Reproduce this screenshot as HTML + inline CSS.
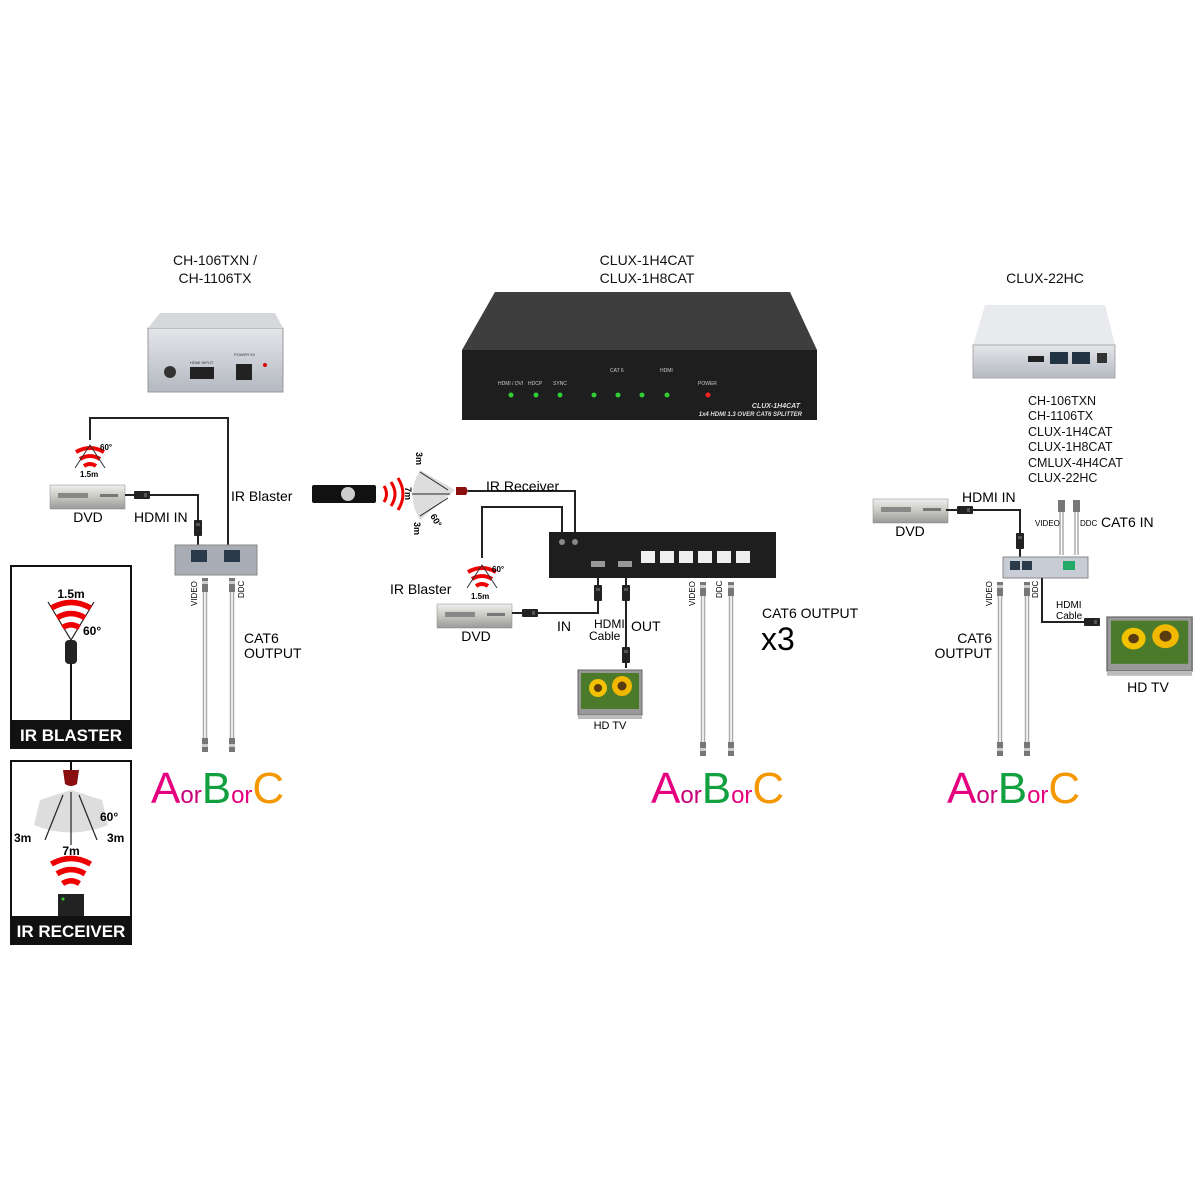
<!DOCTYPE html>
<html><head><meta charset="utf-8"><style>
html,body{margin:0;padding:0;background:#fff;}
svg{display:block;font-family:"Liberation Sans",sans-serif;}
</style></head><body>
<svg width="1200" height="1200" viewBox="0 0 1200 1200" xmlns="http://www.w3.org/2000/svg">
<defs>
<linearGradient id="silver" x1="0" y1="0" x2="0" y2="1"><stop offset="0" stop-color="#e4e6ea"/><stop offset="1" stop-color="#b4b8c0"/></linearGradient>
<linearGradient id="dvd" x1="0" y1="0" x2="0" y2="1"><stop offset="0" stop-color="#eee"/><stop offset="0.5" stop-color="#c8c8c0"/><stop offset="1" stop-color="#999"/></linearGradient>
<linearGradient id="blk" x1="0" y1="0" x2="0" y2="1"><stop offset="0" stop-color="#555"/><stop offset="1" stop-color="#2a2a2a"/></linearGradient>
<g id="dvdg"><rect x="0" y="0" width="75" height="24" fill="url(#dvd)" stroke="#888" stroke-width="0.5"/><rect x="8" y="8" width="30" height="5" fill="#888"/><rect x="50" y="9" width="18" height="3" fill="#777"/></g>
<g id="cable"><rect x="-3" y="0" width="6" height="14" fill="#777"/><rect x="-3" y="3" width="6" height="3" fill="#ccc"/><line x1="-1.5" y1="14" x2="-1.5" y2="160" stroke="#aaa" stroke-width="1.5"/><line x1="1.5" y1="14" x2="1.5" y2="160" stroke="#aaa" stroke-width="1.5"/><rect x="-3" y="160" width="6" height="14" fill="#777"/><rect x="-3" y="166" width="6" height="3" fill="#ccc"/></g>
<g id="plug"><rect x="-4" y="-8" width="8" height="16" rx="1" fill="#222"/><rect x="-2" y="-5" width="4" height="3" fill="#555"/></g>
<g id="waves" fill="none" stroke="#e00" stroke-width="4"><path d="M-14,-10 Q0,-18 14,-10"/><path d="M-10,-3 Q0,-9 10,-3"/><path d="M-6,4 Q0,0 6,4"/></g>
<g id="tv"><rect x="0" y="0" width="64" height="45" fill="#999" stroke="#666"/><rect x="3" y="3" width="58" height="36" fill="#4a7a2a"/><circle cx="20" cy="18" r="9" fill="#f2c200"/><circle cx="20" cy="18" r="4" fill="#5a3a10"/><circle cx="44" cy="16" r="10" fill="#f2b800"/><circle cx="44" cy="16" r="4.5" fill="#5a3a10"/><rect x="0" y="45" width="64" height="4" fill="#bbb"/></g>
</defs>

<!-- titles -->
<g font-size="14" fill="#111" text-anchor="middle">
<text x="215" y="265">CH-106TXN /</text><text x="215" y="283">CH-1106TX</text>
<text x="647" y="265">CLUX-1H4CAT</text><text x="647" y="283">CLUX-1H8CAT</text>
<text x="1045" y="283">CLUX-22HC</text>
</g>

<!-- left device photo -->
<rect x="148" y="328" width="135" height="64" fill="url(#silver)" stroke="#999"/>
<polygon points="160,313 275,313 283,328 148,328" fill="#d6d8dc"/>
<rect x="190" y="367" width="24" height="12" fill="#222"/><circle cx="170" cy="372" r="6" fill="#333"/><rect x="236" y="364" width="16" height="16" fill="#222"/><circle cx="265" cy="365" r="2" fill="#d00"/>
<text x="190" y="364" font-size="4" fill="#333">HDMI INPUT</text><text x="234" y="356" font-size="4" fill="#333">POWER 5V</text>

<!-- center device photo -->
<polygon points="495,292 790,292 817,350 462,350" fill="#3e3e3e"/>
<rect x="462" y="350" width="355" height="70" fill="#1e1e1e"/>
<g fill="#3c3" ><circle cx="511" cy="395" r="2.5"/><circle cx="536" cy="395" r="2.5"/><circle cx="560" cy="395" r="2.5"/><circle cx="594" cy="395" r="2.5"/><circle cx="618" cy="395" r="2.5"/><circle cx="642" cy="395" r="2.5"/><circle cx="667" cy="395" r="2.5"/></g>
<circle cx="708" cy="395" r="2.5" fill="#e22"/>
<g font-size="5" fill="#ccc"><text x="498" y="385">HDMI / DVI</text><text x="528" y="385">HDCP</text><text x="553" y="385">SYNC</text><text x="698" y="385">POWER</text><text x="610" y="372">CAT 6</text><text x="660" y="372">HDMI</text></g>
<text x="800" y="408" font-size="7" fill="#ddd" font-style="italic" font-weight="bold" text-anchor="end">CLUX-1H4CAT</text>
<text x="802" y="416" font-size="6" fill="#ddd" font-style="italic" font-weight="bold" text-anchor="end">1x4 HDMI 1.3 OVER CAT6 SPLITTER</text>

<!-- right device photo -->
<polygon points="985,305 1105,305 1115,345 973,345" fill="#e8eaee"/>
<rect x="973" y="345" width="142" height="33" fill="url(#silver)" stroke="#aaa"/>
<rect x="1050" y="352" width="18" height="12" fill="#234"/><rect x="1072" y="352" width="18" height="12" fill="#234"/><rect x="1028" y="356" width="16" height="6" fill="#222"/><rect x="1097" y="353" width="10" height="10" fill="#333"/>

<text x="1028" y="405" font-size="12.5" fill="#111">CH-106TXN</text>
<text x="1028" y="420" font-size="12.5" fill="#111">CH-1106TX</text>
<text x="1028" y="436" font-size="12.5" fill="#111">CLUX-1H4CAT</text>
<text x="1028" y="451" font-size="12.5" fill="#111">CLUX-1H8CAT</text>
<text x="1028" y="467" font-size="12.5" fill="#111">CMLUX-4H4CAT</text>
<text x="1028" y="482" font-size="12.5" fill="#111">CLUX-22HC</text>

<!-- LEFT system -->
<polyline points="90,440 90,418 228,418 228,545" fill="none" stroke="#222" stroke-width="2"/>
<use href="#waves" x="90" y="462"/>
<path d="M75,468 L90,445 L105,468" fill="none" stroke="#333" stroke-width="1"/>
<text x="100" y="450" font-size="8" font-weight="bold">60°</text><text x="80" y="477" font-size="8" font-weight="bold">1.5m</text>
<use href="#dvdg" x="50" y="485"/><text x="88" y="522" font-size="14" text-anchor="middle">DVD</text>
<polyline points="125,495 198,495 198,545" fill="none" stroke="#222" stroke-width="2"/>
<use href="#plug" x="142" y="495" transform="rotate(90 142 495)"/><use href="#plug" x="198" y="528"/>
<text x="134" y="522" font-size="14">HDMI IN</text><text x="231" y="501" font-size="14">IR Blaster</text>
<rect x="175" y="545" width="82" height="30" fill="#a8adb5" stroke="#888"/>
<rect x="191" y="550" width="16" height="12" fill="#2a3a4a"/><rect x="224" y="550" width="16" height="12" fill="#2a3a4a"/>
<use href="#cable" x="205" y="578"/><use href="#cable" x="232" y="578"/>
<text font-size="8" transform="translate(197,606) rotate(-90)">VIDEO</text>
<text font-size="8" transform="translate(244,598) rotate(-90)">DDC</text>
<text x="244" y="643" font-size="14">CAT6</text><text x="244" y="658" font-size="14">OUTPUT</text>

<!-- IR boxes -->
<rect x="11" y="566" width="120" height="182" fill="#fff" stroke="#111" stroke-width="2"/>
<rect x="11" y="720" width="120" height="28" fill="#111"/>
<text x="71" y="741" font-size="17" font-weight="bold" fill="#fff" text-anchor="middle">IR BLASTER</text>
<text x="71" y="598" font-size="12" font-weight="bold" text-anchor="middle">1.5m</text>
<path d="M48,602 L71,640 L94,602" fill="none" stroke="#222" stroke-width="1.2"/>
<use href="#waves" x="71" y="622" transform="translate(71 622) scale(1.4) translate(-71 -622)"/>
<text x="83" y="635" font-size="12" font-weight="bold">60°</text>
<rect x="65" y="640" width="12" height="24" rx="4" fill="#222"/><line x1="71" y1="664" x2="71" y2="720" stroke="#111" stroke-width="2"/>

<rect x="11" y="761" width="120" height="183" fill="#fff" stroke="#111" stroke-width="2"/>
<rect x="11" y="916" width="120" height="28" fill="#111"/>
<text x="71" y="937" font-size="17" font-weight="bold" fill="#fff" text-anchor="middle">IR RECEIVER</text>
<line x1="71" y1="762" x2="71" y2="770" stroke="#111" stroke-width="2"/>
<path d="M63,770 h16 l-2,14 q-6,4 -12,0z" fill="#8a1010"/>
<path d="M40,800 L71,790 L102,800 L108,825 Q71,840 34,825 Z" fill="#ddd"/>
<g stroke="#222" stroke-width="1.2"><line x1="71" y1="845" x2="71" y2="792"/><line x1="45" y1="840" x2="63" y2="795"/><line x1="97" y1="840" x2="79" y2="795"/></g>
<text x="14" y="842" font-size="12" font-weight="bold">3m</text><text x="107" y="842" font-size="12" font-weight="bold">3m</text>
<text x="100" y="821" font-size="12" font-weight="bold">60°</text><text x="71" y="855" font-size="12" font-weight="bold" text-anchor="middle">7m</text>
<use href="#waves" x="71" y="878" transform="translate(71 878) scale(1.4) translate(-71 -878)"/>
<rect x="58" y="894" width="26" height="22" fill="#222"/><circle cx="63" cy="899" r="1.5" fill="#3c3"/>

<!-- CENTER system -->
<rect x="312" y="485" width="64" height="18" rx="2" fill="#111"/><circle cx="348" cy="494" r="7" fill="#ccc"/>
<g fill="none" stroke="#e00" stroke-width="3"><path d="M384,486 q5,8 0,16"/><path d="M391,482 q8,12 0,24"/><path d="M398,478 q10,16 0,32"/></g>
<path d="M420,470 L455,490 L420,520 Q405,495 420,470Z" fill="#ddd"/>
<g stroke="#222" stroke-width="1"><line x1="412" y1="494" x2="450" y2="494"/><line x1="420" y1="472" x2="448" y2="490"/><line x1="420" y1="516" x2="448" y2="498"/></g>
<text font-size="9" font-weight="bold" transform="translate(416,452) rotate(90)">3m</text>
<text font-size="9" font-weight="bold" transform="translate(405,487) rotate(90)">7m</text>
<text font-size="9" font-weight="bold" transform="translate(414,522) rotate(90)">3m</text>
<text font-size="9" font-weight="bold" transform="translate(430,516) rotate(60)">60°</text>
<path d="M456,487 h10 l2,4 l-2,4 h-10z" fill="#8a1010"/>
<polyline points="468,491 575,491 575,532" fill="none" stroke="#222" stroke-width="2"/>
<polyline points="482,558 482,507 562,507 562,532" fill="none" stroke="#222" stroke-width="2"/>
<text x="486" y="491" font-size="14">IR Receiver</text>
<use href="#waves" x="482" y="582"/>
<path d="M467,588 L482,565 L497,588" fill="none" stroke="#333" stroke-width="1"/>
<text x="492" y="572" font-size="8" font-weight="bold">60°</text><text x="471" y="599" font-size="8" font-weight="bold">1.5m</text>
<text x="390" y="594" font-size="14">IR Blaster</text>
<use href="#dvdg" x="437" y="604"/><text x="476" y="641" font-size="14" text-anchor="middle">DVD</text>
<polyline points="512,613 598,613 598,578" fill="none" stroke="#222" stroke-width="2"/>
<use href="#plug" x="530" y="613" transform="rotate(90 530 613)"/><use href="#plug" x="598" y="593"/>
<line x1="626" y1="578" x2="626" y2="668" stroke="#222" stroke-width="2"/>
<use href="#plug" x="626" y="593"/><use href="#plug" x="626" y="655"/>
<text x="557" y="631" font-size="14">IN</text><text x="594" y="628" font-size="12">HDMI</text><text x="589" y="640" font-size="12">Cable</text><text x="631" y="631" font-size="14">OUT</text>
<use href="#tv" x="578" y="670"/><text x="610" y="729" font-size="11" text-anchor="middle">HD TV</text>
<rect x="549" y="532" width="227" height="46" fill="#1e1e1e"/>
<g fill="#eee"><rect x="641" y="551" width="14" height="12"/><rect x="660" y="551" width="14" height="12"/><rect x="679" y="551" width="14" height="12"/><rect x="698" y="551" width="14" height="12"/><rect x="717" y="551" width="14" height="12"/><rect x="736" y="551" width="14" height="12"/></g>
<rect x="591" y="561" width="14" height="6" fill="#999"/><rect x="618" y="561" width="14" height="6" fill="#999"/>
<circle cx="562" cy="542" r="3" fill="#888"/><circle cx="575" cy="542" r="3" fill="#888"/>
<use href="#cable" x="703" y="582"/><use href="#cable" x="731" y="582"/>
<text font-size="8" transform="translate(695,606) rotate(-90)">VIDEO</text>
<text font-size="8" transform="translate(722,598) rotate(-90)">DDC</text>
<text x="762" y="618" font-size="14">CAT6 OUTPUT</text>
<text x="761" y="650" font-size="32">x3</text>

<!-- RIGHT system -->
<use href="#dvdg" x="873" y="499"/><text x="910" y="536" font-size="14" text-anchor="middle">DVD</text>
<polyline points="946,510 1020,510 1020,558" fill="none" stroke="#222" stroke-width="2"/>
<use href="#plug" x="965" y="510" transform="rotate(90 965 510)"/><use href="#plug" x="1020" y="541"/>
<text x="962" y="502" font-size="14">HDMI IN</text>
<g stroke="#aaa" stroke-width="1.5"><line x1="1060" y1="510" x2="1060" y2="555"/><line x1="1063" y1="510" x2="1063" y2="555"/><line x1="1075" y1="510" x2="1075" y2="555"/><line x1="1078" y1="510" x2="1078" y2="555"/></g>
<rect x="1058" y="500" width="7" height="12" fill="#777"/><rect x="1073" y="500" width="7" height="12" fill="#777"/>
<text x="1035" y="526" font-size="8">VIDEO</text><text x="1080" y="526" font-size="8">DDC</text><text x="1101" y="527" font-size="14">CAT6 IN</text>
<rect x="1003" y="557" width="85" height="21" fill="#c8ccd4" stroke="#888"/>
<rect x="1010" y="561" width="10" height="9" fill="#2a3a4a"/><rect x="1022" y="561" width="10" height="9" fill="#2a3a4a"/><rect x="1063" y="561" width="12" height="9" fill="#2a6"/>
<use href="#cable" x="1000" y="582"/><use href="#cable" x="1027" y="582"/>
<text font-size="8" transform="translate(992,606) rotate(-90)">VIDEO</text>
<text font-size="8" transform="translate(1038,598) rotate(-90)">DDC</text>
<polyline points="1042,578 1042,622 1100,622" fill="none" stroke="#222" stroke-width="2"/>
<use href="#plug" x="1092" y="622" transform="rotate(90 1092 622)"/>
<text x="1056" y="608" font-size="10">HDMI</text><text x="1056" y="619" font-size="10">Cable</text>
<g transform="translate(1107,617) scale(1.33 1.2)"><use href="#tv"/></g>
<text x="1148" y="692" font-size="14" text-anchor="middle">HD TV</text>
<text x="992" y="643" font-size="14" text-anchor="end">CAT6</text><text x="992" y="658" font-size="14" text-anchor="end">OUTPUT</text>

<!-- AorBorC -->
<g font-size="44">
<text x="151" y="803"><tspan fill="#e5007f">A</tspan><tspan fill="#c8007a" font-size="24">or</tspan><tspan fill="#12a040">B</tspan><tspan fill="#e5007f" font-size="24">or</tspan><tspan fill="#f39800">C</tspan></text>
<text x="651" y="803"><tspan fill="#e5007f">A</tspan><tspan fill="#c8007a" font-size="24">or</tspan><tspan fill="#12a040">B</tspan><tspan fill="#e5007f" font-size="24">or</tspan><tspan fill="#f39800">C</tspan></text>
<text x="947" y="803"><tspan fill="#e5007f">A</tspan><tspan fill="#c8007a" font-size="24">or</tspan><tspan fill="#12a040">B</tspan><tspan fill="#e5007f" font-size="24">or</tspan><tspan fill="#f39800">C</tspan></text>
</g>
</svg>
</body></html>
